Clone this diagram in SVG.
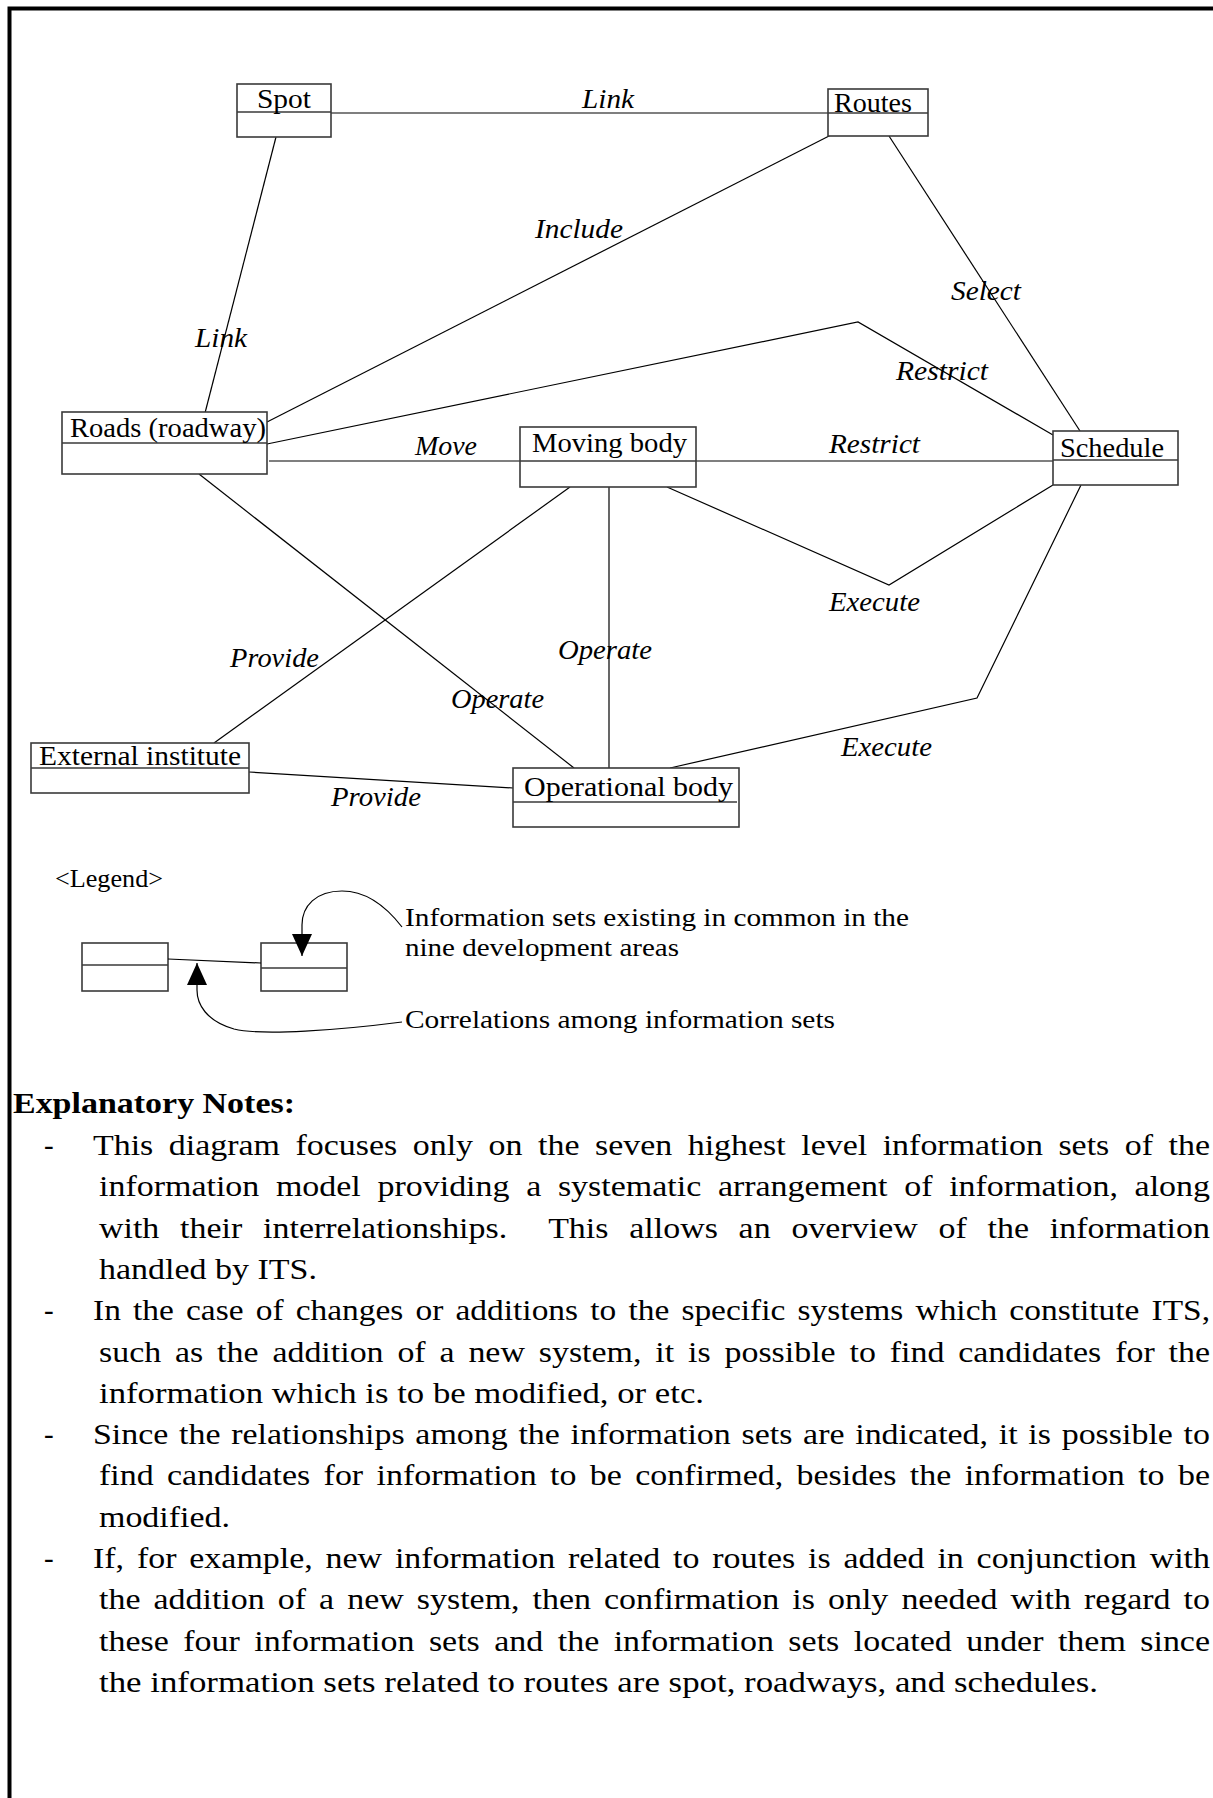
<svg xmlns="http://www.w3.org/2000/svg" width="1213" height="1798" viewBox="0 0 1213 1798">
  <style>
    .frame { fill: none; stroke: #000; stroke-width: 4; }
    .box { fill: #fff; stroke: #3a3a3a; stroke-width: 1.6; }
    .div { stroke: #3a3a3a; stroke-width: 1.6; }
    .edge { fill: none; stroke: #000; stroke-width: 1.2; }
    .lbl { font-family: "Liberation Serif", "Times New Roman", serif; font-size: 28px; fill: #000; }
    .rel { font-family: "Liberation Serif", "Times New Roman", serif; font-size: 28px; font-style: italic; fill: #000; }
    .leg { font-family: "Liberation Serif", "Times New Roman", serif; font-size: 26px; fill: #000; }
    .note { font-family: "Liberation Serif", "Times New Roman", serif; font-size: 29px; fill: #000; }
    .head { font-family: "Liberation Serif", "Times New Roman", serif; font-size: 29px; font-weight: bold; fill: #000; }
  </style>
  <defs>
    <marker id="tri" viewBox="0 0 22 20" refX="22" refY="10" markerWidth="22" markerHeight="20" markerUnits="userSpaceOnUse" orient="auto">
      <path d="M0,0 L22,10 L0,20 Z" fill="#000"/>
    </marker>
  </defs>

  <rect width="1213" height="1798" fill="#fff"/>
  <!-- page frame: left and top rules -->
  <path class="frame" d="M9.5,1798 L9.5,8.5 L1213,8.5"/>

  <!-- relationships between the information sets -->
  <g id="connectors">
    <line class="edge" x1="331" y1="113" x2="828" y2="113"/>
    <line class="edge" x1="276" y1="137" x2="205" y2="413"/>
    <line class="edge" x1="831" y1="135" x2="267" y2="422"/>
    <line class="edge" x1="889" y1="136" x2="1080" y2="431"/>
    <polyline class="edge" points="267,444 858,322 1053,435"/>
    <line class="edge" x1="269" y1="461" x2="520" y2="461"/>
    <line class="edge" x1="696" y1="461" x2="1053" y2="461"/>
    <line class="edge" x1="199" y1="474" x2="574" y2="768"/>
    <line class="edge" x1="570" y1="487" x2="214" y2="743"/>
    <line class="edge" x1="609" y1="487" x2="609" y2="768"/>
    <polyline class="edge" points="667,487 889,585 1053,485"/>
    <polyline class="edge" points="1081,485 977,698 670,768"/>
    <line class="edge" x1="249" y1="772" x2="513" y2="788"/>

    <text class="rel" x="582" y="108" textLength="52" lengthAdjust="spacingAndGlyphs">Link</text>
    <text class="rel" x="195" y="347" textLength="52" lengthAdjust="spacingAndGlyphs">Link</text>
    <text class="rel" x="535" y="238" textLength="88" lengthAdjust="spacingAndGlyphs">Include</text>
    <text class="rel" x="951" y="300" textLength="70" lengthAdjust="spacingAndGlyphs">Select</text>
    <text class="rel" x="896" y="380" textLength="92" lengthAdjust="spacingAndGlyphs">Restrict</text>
    <text class="rel" x="415" y="455" textLength="62" lengthAdjust="spacingAndGlyphs">Move</text>
    <text class="rel" x="829" y="453" textLength="91" lengthAdjust="spacingAndGlyphs">Restrict</text>
    <text class="rel" x="829" y="611" textLength="91" lengthAdjust="spacingAndGlyphs">Execute</text>
    <text class="rel" x="230" y="667" textLength="89" lengthAdjust="spacingAndGlyphs">Provide</text>
    <text class="rel" x="558" y="659" textLength="94" lengthAdjust="spacingAndGlyphs">Operate</text>
    <text class="rel" x="451" y="708" textLength="93" lengthAdjust="spacingAndGlyphs">Operate</text>
    <text class="rel" x="841" y="756" textLength="91" lengthAdjust="spacingAndGlyphs">Execute</text>
    <text class="rel" x="331" y="806" textLength="90" lengthAdjust="spacingAndGlyphs">Provide</text>
  </g>

  <!-- information sets -->
  <g id="spot">
    <rect class="box" x="237" y="84" width="94" height="53"/>
    <line class="div" x1="237" y1="112" x2="331" y2="112"/>
    <text class="lbl" x="257" y="108" textLength="54" lengthAdjust="spacingAndGlyphs">Spot</text>
  </g>
  <g id="routes">
    <rect class="box" x="828" y="89" width="100" height="47"/>
    <line class="div" x1="828" y1="113" x2="928" y2="113"/>
    <text class="lbl" x="834" y="112" textLength="78" lengthAdjust="spacingAndGlyphs">Routes</text>
  </g>
  <g id="roads">
    <rect class="box" x="62" y="412" width="205" height="62"/>
    <line class="div" x1="62" y1="443" x2="267" y2="443"/>
    <text class="lbl" x="70" y="437" textLength="196" lengthAdjust="spacingAndGlyphs">Roads (roadway)</text>
  </g>
  <g id="moving-body">
    <rect class="box" x="520" y="427" width="176" height="60"/>
    <line class="div" x1="520" y1="461" x2="696" y2="461"/>
    <text class="lbl" x="532" y="452" textLength="155" lengthAdjust="spacingAndGlyphs">Moving body</text>
  </g>
  <g id="schedule">
    <rect class="box" x="1053" y="431" width="125" height="54"/>
    <line class="div" x1="1053" y1="460" x2="1178" y2="460"/>
    <text class="lbl" x="1060" y="457" textLength="104" lengthAdjust="spacingAndGlyphs">Schedule</text>
  </g>
  <g id="external-institute">
    <rect class="box" x="31" y="743" width="218" height="50"/>
    <line class="div" x1="31" y1="768" x2="249" y2="768"/>
    <text class="lbl" x="39" y="765" textLength="202" lengthAdjust="spacingAndGlyphs">External institute</text>
  </g>
  <g id="operational-body">
    <rect class="box" x="513" y="768" width="226" height="59"/>
    <line class="div" x1="513" y1="802" x2="737" y2="802"/>
    <text class="lbl" x="524" y="796" textLength="209" lengthAdjust="spacingAndGlyphs">Operational body</text>
  </g>

  <!-- legend -->
  <g id="legend">
    <text class="leg" x="55" y="887" textLength="108" lengthAdjust="spacingAndGlyphs">&lt;Legend&gt;</text>
    <rect class="box" x="82" y="943" width="86" height="48"/>
    <line class="div" x1="82" y1="965" x2="168" y2="965"/>
    <rect class="box" x="261" y="943" width="86" height="48"/>
    <line class="div" x1="261" y1="968" x2="347" y2="968"/>
    <line class="edge" x1="168" y1="959" x2="261" y2="963"/>
    <path class="edge" d="M402,927 C385,905 366,891 342,891 C316,891 302,906 302,925 L302,956" marker-end="url(#tri)"/>
    <path class="edge" d="M402,1022 C340,1030 262,1036 234,1029 C206,1021 197,1004 197,990 L197,963" marker-end="url(#tri)"/>
    <text class="leg" x="405" y="926" textLength="504" lengthAdjust="spacingAndGlyphs">Information sets existing in common in the</text>
    <text class="leg" x="405" y="956" textLength="274" lengthAdjust="spacingAndGlyphs">nine development areas</text>
    <text class="leg" x="405" y="1028" textLength="430" lengthAdjust="spacingAndGlyphs">Correlations among information sets</text>
  </g>

  <!-- explanatory notes -->
  <g id="notes">
    <text class="head" x="13" y="1113" textLength="282" lengthAdjust="spacingAndGlyphs">Explanatory Notes:</text>

    <text class="note" x="44" y="1155">-</text>
    <text class="note" x="93" y="1155" word-spacing="6" textLength="1117" lengthAdjust="spacingAndGlyphs">This diagram focuses only on the seven highest level information sets of the</text>
    <text class="note" x="99" y="1196" word-spacing="7" textLength="1111" lengthAdjust="spacingAndGlyphs">information model providing a systematic arrangement of information, along</text>
    <text class="note" x="99" y="1238" word-spacing="10.5" textLength="1111" lengthAdjust="spacingAndGlyphs" xml:space="preserve">with their interrelationships.  This allows an overview of the information</text>
    <text class="note" x="99" y="1279" textLength="218" lengthAdjust="spacingAndGlyphs">handled by ITS.</text>

    <text class="note" x="44" y="1320">-</text>
    <text class="note" x="93" y="1320" word-spacing="3.3" textLength="1117" lengthAdjust="spacingAndGlyphs">In the case of changes or additions to the specific systems which constitute ITS,</text>
    <text class="note" x="99" y="1362" word-spacing="4.6" textLength="1111" lengthAdjust="spacingAndGlyphs">such as the addition of a new system, it is possible to find candidates for the</text>
    <text class="note" x="99" y="1403" textLength="605" lengthAdjust="spacingAndGlyphs">information which is to be modified, or etc.</text>

    <text class="note" x="44" y="1444">-</text>
    <text class="note" x="93" y="1444" word-spacing="1.9" textLength="1117" lengthAdjust="spacingAndGlyphs">Since the relationships among the information sets are indicated, it is possible to</text>
    <text class="note" x="99" y="1485" word-spacing="4.2" textLength="1111" lengthAdjust="spacingAndGlyphs">find candidates for information to be confirmed, besides the information to be</text>
    <text class="note" x="99" y="1527" textLength="131" lengthAdjust="spacingAndGlyphs">modified.</text>

    <text class="note" x="44" y="1568">-</text>
    <text class="note" x="93" y="1568" word-spacing="3.7" textLength="1117" lengthAdjust="spacingAndGlyphs">If, for example, new information related to routes is added in conjunction with</text>
    <text class="note" x="99" y="1609" word-spacing="3.9" textLength="1111" lengthAdjust="spacingAndGlyphs">the addition of a new system, then confirmation is only needed with regard to</text>
    <text class="note" x="99" y="1651" word-spacing="5.1" textLength="1111" lengthAdjust="spacingAndGlyphs">these four information sets and the information sets located under them since</text>
    <text class="note" x="99" y="1692" textLength="999" lengthAdjust="spacingAndGlyphs">the information sets related to routes are spot, roadways, and schedules.</text>
  </g>
</svg>
